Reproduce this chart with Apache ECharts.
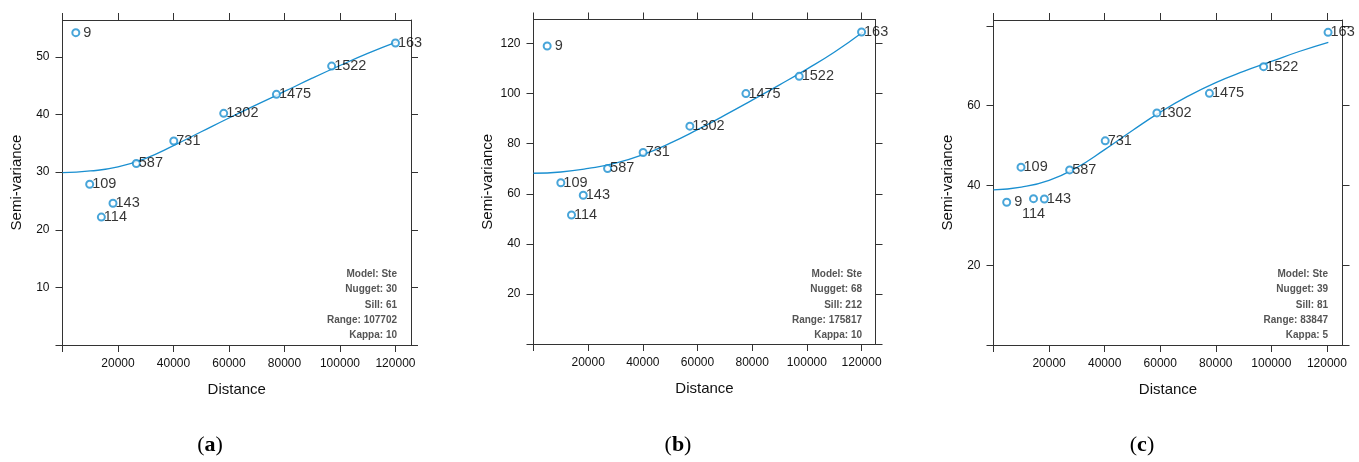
<!DOCTYPE html>
<html>
<head>
<meta charset="utf-8">
<script src="https://cdn.jsdelivr.net/npm/echarts@6/dist/echarts.min.js"></script>
<style>
  html, body { margin: 0; background: #fff; }
  #chart { width: 1359px; height: 462px; }
</style>
</head>
<body>
<div id="chart"></div>
<script>
// number of point pairs in each lag bin (same in the three plots)
const pairLabels = ['9', '109', '114', '143', '587', '731', '1302', '1475', '1522', '163']

// sample variogram (distance, semi-variance)
const distA = [4800, 9800, 14000, 18200, 26600, 40100, 58100, 77100, 97000, 120000]
const gammaA = [54.2, 27.9, 22.2, 24.6, 31.5, 35.4, 40.2, 43.5, 48.4, 52.4]

const distB = [5000, 10000, 13900, 18200, 27100, 40100, 57200, 77700, 97200, 120000]
const gammaB = [119.0, 64.4, 51.5, 59.4, 70.1, 76.5, 87.0, 100.0, 106.9, 124.6]

const distC = [4750, 9900, 14400, 18300, 27400, 40200, 58800, 77700, 97200, 120400]
const gammaC = [35.8, 44.6, 36.7, 36.6, 43.9, 51.2, 58.2, 63.1, 69.8, 78.4]

// fitted model curves
const curveDist = [0, 10000, 20000, 30000, 40000, 50000, 60000, 70000, 80000, 90000, 100000, 110000, 120500]
const curveA = [29.9, 30.2, 30.9, 32.4, 34.6, 37.0, 39.4, 41.7, 44.0, 46.3, 48.5, 50.6, 52.6]
const curveB = [68.2, 68.7, 70.1, 72.2, 75.6, 80.2, 85.6, 91.4, 97.4, 103.5, 109.8, 116.5, 124.6]
const curveC = [38.9, 39.6, 41.3, 44.5, 49.0, 53.8, 58.4, 62.4, 65.8, 68.6, 71.1, 73.6, 75.9]

// axis ticks / tick labels
const xTicks = [0, 20000, 40000, 60000, 80000, 100000, 120000]
const xTickLabels = [20000, 40000, 60000, 80000, 100000, 120000]
const yTicksA = [0, 10, 20, 30, 40, 50]
const yTickLabelsA = [10, 20, 30, 40, 50]
const yTicksB = [0, 20, 40, 60, 80, 100, 120]
const yTickLabelsB = [20, 40, 60, 80, 100, 120]
const yTicksC = [0, 20, 40, 60, 80]
const yTickLabelsC = [20, 40, 60]

// model text in the lower right corner
const notesA = ['Model: Ste', 'Nugget: 30', 'Sill: 61', 'Range: 107702', 'Kappa: 10']
const notesB = ['Model: Ste', 'Nugget: 68', 'Sill: 212', 'Range: 175817', 'Kappa: 10']
const notesC = ['Model: Ste', 'Nugget: 39', 'Sill: 81', 'Range: 83847', 'Kappa: 5']

const captions = ['a', 'b', 'c']

const BLUE = '#1a8fd0'
const FRAME = '#333'
const FONT = '"Liberation Sans", Arial, sans-serif'

const panels = [
  { box: [62.5, 20, 348.5, 325], xMax: 125600, yMax: 56.4, dist: distA, gamma: gammaA, curve: curveA,
    yTicks: yTicksA, yLabels: yTickLabelsA, notes: notesA, noteX: 397, capX: 210 },
  { box: [533.5, 19.5, 342, 324.5], xMax: 125100, yMax: 129.6, dist: distB, gamma: gammaB, curve: curveB,
    yTicks: yTicksB, yLabels: yTickLabelsB, notes: notesB, noteX: 862, capX: 678 },
  { box: [993.5, 20, 349, 325], xMax: 125600, yMax: 81.5, dist: distC, gamma: gammaC, curve: curveC,
    yTicks: yTicksC, yLabels: yTickLabelsC, notes: notesC, noteX: 1328, capX: 1142,
    labelPos: { '114': 'bottom' } }
]

const myChart = echarts.init(document.getElementById('chart'))
const grid = [], xAxis = [], yAxis = [], series = [], graphic = []

function frameAxis(extra) {
  return Object.assign({
    type: 'value',
    min: 0,
    splitLine: { show: false },
    axisLine: { show: true, onZero: false, lineStyle: { color: FRAME, width: 1 } },
    axisTick: { show: true, length: 7, lineStyle: { color: FRAME, width: 1 } },
    axisLabel: { show: false }
  }, extra)
}

panels.forEach((p, i) => {
  grid.push({ left: p.box[0], top: p.box[1], width: p.box[2], height: p.box[3] })

  let labelStyle = { color: '#111', fontSize: 12, fontFamily: FONT }
  xAxis.push(frameAxis({
    gridIndex: i, position: 'bottom', max: p.xMax,
    axisTick: { show: true, length: 7, customValues: xTicks, lineStyle: { color: FRAME } },
    axisLabel: Object.assign({ show: true, margin: 13, customValues: xTickLabels, formatter: v => String(v) }, labelStyle),
    name: 'Distance', nameLocation: 'middle', nameGap: 37,
    nameTextStyle: { color: '#111', fontSize: 15, fontFamily: FONT }
  }))
  xAxis.push(frameAxis({
    gridIndex: i, position: 'top', max: p.xMax,
    axisTick: { show: true, length: 7, customValues: xTicks, lineStyle: { color: FRAME } }
  }))
  yAxis.push(frameAxis({
    gridIndex: i, position: 'left', max: p.yMax,
    axisTick: { show: true, length: 7, customValues: p.yTicks, lineStyle: { color: FRAME } },
    axisLabel: Object.assign({ show: true, margin: 13, customValues: p.yLabels }, labelStyle),
    name: 'Semi-variance', nameLocation: 'middle', nameGap: 38,
    nameTextStyle: { color: '#111', fontSize: 15, fontFamily: FONT }
  }))
  yAxis.push(frameAxis({
    gridIndex: i, position: 'right', max: p.yMax,
    axisTick: { show: true, length: 7, customValues: p.yTicks, lineStyle: { color: FRAME } }
  }))

  series.push({
    type: 'line',
    xAxisIndex: i * 2, yAxisIndex: i * 2,
    data: curveDist.map((d, k) => [d, p.curve[k]]),
    smooth: true,
    showSymbol: false,
    lineStyle: { color: BLUE, width: 1.3 },
    silent: true,
    z: 2
  })

  series.push({
    type: 'scatter',
    xAxisIndex: i * 2, yAxisIndex: i * 2,
    symbol: 'emptyCircle',
    symbolSize: 7,
    itemStyle: { color: BLUE, borderColor: BLUE, borderWidth: 1.1 },
    data: p.dist.map((d, k) => {
      let name = pairLabels[k]
      let pos = (p.labelPos && p.labelPos[name]) || 'right'
      // single digit label sits a bit further from its circle
      let gap = pos !== 'right' ? 3 : (name === '9' ? 3 : -2)
      return {
        value: [d, p.gamma[k]],
        label: { position: pos, distance: gap }
      }
    }),
    label: {
      show: true,
      formatter: o => pairLabels[o.dataIndex],
      color: '#000',
      fontSize: 14.5,
      fontFamily: FONT
    },
    z: 3
  })

  p.notes.forEach((t, k) => {
    graphic.push({
      type: 'text',
      x: p.noteX, y: 274 + k * 15.4,
      style: {
        text: t, align: 'right', verticalAlign: 'middle',
        fill: '#555', font: 'bold 10px ' + FONT
      }
    })
  })

  graphic.push({
    type: 'text',
    x: p.capX, y: 445,
    style: {
      text: '{p|(}{b|' + captions[i] + '}{p|)}',
      align: 'center', verticalAlign: 'middle',
      rich: {
        p: { fontSize: 22, fontFamily: '"Liberation Serif", serif', fill: '#000' },
        b: { fontSize: 22, fontWeight: 'bold', fontFamily: '"Liberation Serif", serif', fill: '#000' }
      }
    }
  })
})

myChart.setOption({
  backgroundColor: '#fff',
  animation: false,
  grid,
  xAxis,
  yAxis,
  series,
  graphic
})
</script>
</body>
</html>
